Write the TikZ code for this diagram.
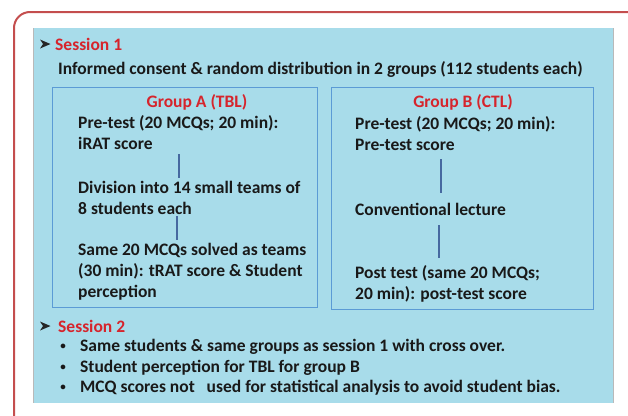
\documentclass[tikz,border=0pt]{standalone}
\usepackage{fontspec}
\setmainfont{Carlito}
\usetikzlibrary{calc}
\definecolor{outerred}{RGB}{196,78,78}
\definecolor{bgblue}{RGB}{168,220,234}
\definecolor{boxblue}{RGB}{91,155,213}
\definecolor{titlered}{RGB}{214,36,44}
\definecolor{connblue}{RGB}{70,105,160}
\definecolor{txt}{RGB}{25,25,25}
\tikzset{
  txtnode/.style={anchor=west, inner sep=0pt, align=left, text=txt,
    font=\fontsize{17.5}{21}\selectfont\bfseries},
  titlenode/.style={inner sep=0pt, text=titlered, font=\fontsize{17.5}{21}\selectfont\bfseries},
  groupbox/.style={draw=boxblue, line width=0.8pt},
  conn/.style={draw=connblue, line width=1.4pt},
  arrowhd/.style={fill=black!85},
  bulletmark/.style={inner sep=0pt, text=txt, font=\fontsize{11}{11}\selectfont\bfseries},
}
\begin{document}
\begin{tikzpicture}[x=1pt,y=-1pt]
\useasboundingbox (0,0) rectangle (628,415);
\begin{scope}
\clip (0,0) rectangle (628,415);
\draw[outerred, line width=2pt, rounded corners=16pt] (14,12) rectangle (645,430);
\end{scope}
\fill[bgblue] (33,28) rectangle (613,403);
\draw[gray!55, line width=0.6pt] (33,28) -- (33,403);
\draw[gray!55, line width=0.6pt] (613,28) -- (613,403);
% Session 1
\coordinate (arr1) at (45,44);
\fill[arrowhd, shift={(arr1)}] (5.5,0) -- (-5,-4.5) -- (-2,0) -- (-5,4.5) -- cycle;
\node[titlenode, anchor=west] (s1) at (55,44) {Session 1};
\node[txtnode] (inf) at (58,69) {Informed consent \& random distribution in 2 groups (112 students each)};
% Group boxes
\node[groupbox, minimum width=265pt, minimum height=220pt, anchor=north west, inner sep=0pt] (boxA) at (52,87) {};
\node[groupbox, minimum width=262pt, minimum height=222pt, anchor=north west, inner sep=0pt] (boxB) at (331,87) {};
% Group A
\node[titlenode] (ga) at (197,102) {Group A (TBL)};
\node[txtnode] (a1) at (78,133) {Pre-test (20 MCQs; 20 min):\\iRAT score};
\node[txtnode] (a2) at (78,197.5) {Division into 14 small teams of\\8 students each};
\node[txtnode] (a3) at (78,272) {Same 20 MCQs solved as teams\\(30 min): tRAT score \& Student\\perception};
\coordinate (ax) at (179,0);
\coordinate (ax2) at (177,0);
\draw[conn] ($(a1.south -| ax)+(0,4)$) -- ($(a2.north -| ax)+(0,-3)$);
\draw[conn] ($(a2.south -| ax2)+(0,2)$) -- ($(a3.north -| ax2)+(0,-3)$);
% Group B
\node[titlenode] (gb) at (463,102) {Group B (CTL)};
\node[txtnode] (b1) at (355,134) {Pre-test (20 MCQs; 20 min):\\Pre-test score};
\node[txtnode] (b2) at (355,209) {Conventional lecture};
\node[txtnode] (b3) at (355,284) {Post test (same 20 MCQs;\\20 min): post-test score};
\coordinate (bx) at (441,0);
\coordinate (bx2) at (439,0);
\draw[conn] ($(b1.south -| bx)+(0,8)$) -- ($(b2.north -| bx)+(0,-10)$);
\draw[conn] ($(b2.south -| bx2)+(0,10)$) -- ($(b3.north -| bx2)+(0,-7)$);
% Session 2
\coordinate (arr2) at (45,326);
\fill[arrowhd, shift={(arr2)}] (5.5,0) -- (-5,-4.5) -- (-2,0) -- (-5,4.5) -- cycle;
\node[titlenode, anchor=west] (s2) at (58,326) {Session 2};
\node[bulletmark] (d1) at (63,347) {•};
\node[txtnode] (l1) at (80,347) {Same students \& same groups as session 1 with cross over.};
\node[bulletmark] (d2) at (63,368) {•};
\node[txtnode] (l2) at (80,368) {Student perception for TBL for group B};
\node[bulletmark] (d3) at (63,388) {•};
\node[txtnode] (l3) at (80,388) {MCQ scores not\ \ \ used for statistical analysis to avoid student bias.};
\end{tikzpicture}
\end{document}
